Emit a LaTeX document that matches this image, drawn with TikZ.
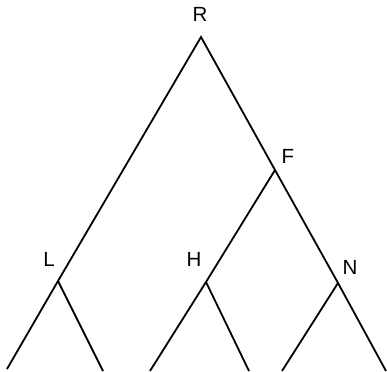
\documentclass[tikz,border=0pt]{standalone}
\usepackage{fontspec}
\setmainfont{Liberation Sans}
\begin{document}
\begin{tikzpicture}[x=1pt,y=-1pt,
  edge/.style={line width=1.8pt},
  lbl/.style={font=\fontsize{20.5}{20.5}\selectfont, anchor=base, inner sep=0pt}]
\useasboundingbox (0,0) rectangle (387,371);
% branch points
\coordinate (r) at (201,37);
\coordinate (l) at (58,281);
\coordinate (f) at (275,170);
\coordinate (h) at (206,282);
\coordinate (n) at (338,283);
% leaf ends
\coordinate (l1) at (7,369);
\coordinate (l2) at (103,371);
\coordinate (h1) at (150,371);
\coordinate (h2) at (249,371);
\coordinate (n1) at (282,371);
\coordinate (n2) at (386,371);
% edges
\draw[edge] (l1) -- (l) -- (r) -- (f) -- (n) -- (n2);
\draw[edge] (l) -- (l2);
\draw[edge] (f) -- (h) -- (h1);
\draw[edge] (h) -- (h2);
\draw[edge] (n) -- (n1);
% labels
\node[lbl] (tR) at (200,22) {R};
\node[lbl] (tL) at (49,266) {L};
\node[lbl] (tF) at (288,164) {F};
\node[lbl] (tH) at (194,266) {H};
\node[lbl] (tN) at (350,274) {N};
\end{tikzpicture}
\end{document}
